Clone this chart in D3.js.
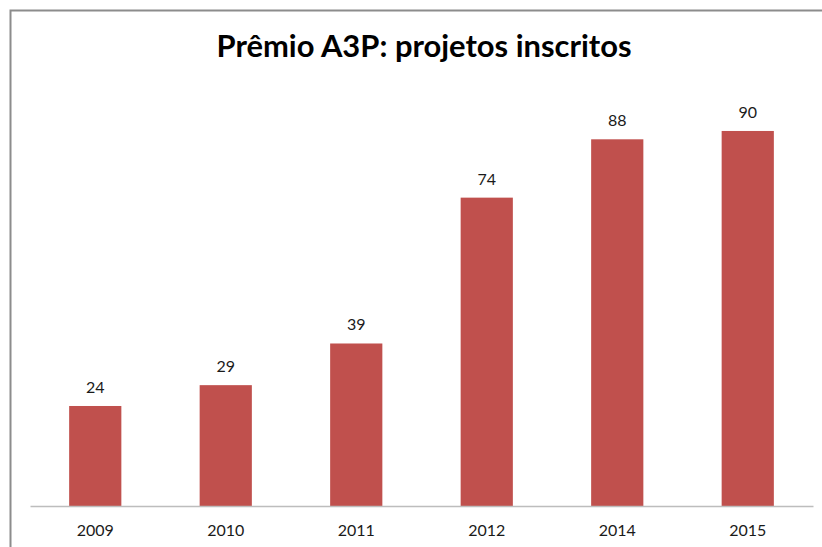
<!DOCTYPE html>
<html><head><meta charset="utf-8">
<script src="https://cdn.jsdelivr.net/npm/d3@7"></script>
<style>body{margin:0;background:#fff;}svg{display:block;}</style>
</head><body>
<svg id="c" width="822" height="547"></svg>
<script>
const categories = ["2009","2010","2011","2012","2014","2015"];
const values = [24, 29, 39, 74, 88, 90];
const title = "Prêmio A3P: projetos inscritos";

const svg = d3.select("#c");
const W = 822, H = 547;
svg.append("rect").attr("width", W).attr("height", H).attr("fill", "#fff");
// outer border (top and left visible)
svg.append("path").attr("d", `M10.5,${H} V10.5 H${W}`).attr("fill","none")
  .attr("stroke","#8c8c8c").attr("stroke-width",2);

const x = d3.scaleBand().domain(categories).range([30, 813]).paddingInner(0.6).paddingOuter(0.3);
const y = d3.scaleLinear().domain([0, 100]).range([506, 89.3]);

svg.append("text").attr("x", 424).attr("y", 57).attr("text-anchor","middle")
  .attr("font-family","Lato, 'Open Sans', sans-serif").attr("font-weight","bold")
  .attr("font-size", 30).attr("fill","#000")
  .attr("textLength", 415).attr("lengthAdjust","spacingAndGlyphs")
  .text(title);

const data = categories.map((c,i)=>({c, v: values[i]}));

svg.selectAll("rect.bar").data(data).join("rect").attr("class","bar")
  .attr("x", d=>x(d.c)).attr("width", x.bandwidth())
  .attr("y", d=>y(d.v)).attr("height", d=>y(0)-y(d.v))
  .attr("fill","#C0504D");

svg.selectAll("text.lbl").data(data).join("text").attr("class","lbl")
  .attr("x", d=>x(d.c)+x.bandwidth()/2).attr("y", d=>y(d.v)-13)
  .attr("text-anchor","middle").attr("font-family","Lato, sans-serif")
  .attr("font-size",16).attr("fill","#1a1a1a").text(d=>d.v);

const ax = svg.append("g").attr("transform","translate(0,506)")
  .call(d3.axisBottom(x).tickSize(0).tickPadding(19));
ax.select(".domain").attr("stroke","#bdbdbd").attr("stroke-width",1.5);
ax.selectAll("text").attr("font-family","Lato, sans-serif").attr("font-size",16).attr("fill","#1a1a1a");
</script>
</body></html>
